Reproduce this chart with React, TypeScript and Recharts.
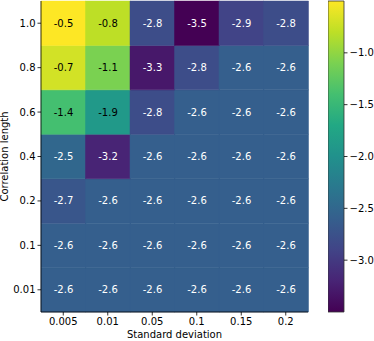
import React from "react";
import { Bar, BarChart, Cell, LabelList, XAxis, YAxis } from "recharts";

// columns (x) and rows (y, bottom to top)
const stdDevs = ["0.005", "0.01", "0.05", "0.1", "0.15", "0.2"];
const corrLengths = ["0.01", "0.1", "0.2", "0.4", "0.6", "0.8", "1.0"];

// one array per correlation length, values per standard deviation
const row001 = [-2.6, -2.6, -2.6, -2.6, -2.6, -2.6];
const row01 = [-2.6, -2.6, -2.6, -2.6, -2.6, -2.6];
const row02 = [-2.7, -2.6, -2.6, -2.6, -2.6, -2.6];
const row04 = [-2.5, -3.2, -2.6, -2.6, -2.6, -2.6];
const row06 = [-1.4, -1.9, -2.8, -2.6, -2.6, -2.6];
const row08 = [-0.7, -1.1, -3.3, -2.8, -2.6, -2.6];
const row10 = [-0.5, -0.8, -2.8, -3.5, -2.9, -2.8];
const rows = [row001, row01, row02, row04, row06, row08, row10];

const colorbarTicks = [-3.0, -2.5, -2.0, -1.5, -1.0];
const VMIN = -3.5;
const VMAX = -0.5;

const VIRIDIS = [
  "#440154", "#482475", "#414487", "#355f8d", "#2a788e", "#21918c",
  "#22a884", "#44bf70", "#7ad151", "#bddf26", "#fde725",
];

const hex = (h: string) => [1, 3, 5].map((i) => parseInt(h.slice(i, i + 2), 16));

function viridis(t: number) {
  const c = Math.max(0, Math.min(1, t)) * (VIRIDIS.length - 1);
  const i = Math.min(Math.floor(c), VIRIDIS.length - 2);
  const f = c - i;
  const a = hex(VIRIDIS[i]);
  const b = hex(VIRIDIS[i + 1]);
  const m = a.map((v, k) => Math.round(v + (b[k] - v) * f));
  return `rgb(${m[0]},${m[1]},${m[2]})`;
}

const norm = (v: number) => (v - VMIN) / (VMAX - VMIN);

const table = stdDevs.map((sd, c) => {
  const d: Record<string, any> = { sd };
  rows.forEach((r, i) => {
    d[`r${i}`] = 1;
    d[`v${i}`] = r[c];
  });
  return d;
});

const FONT = "DejaVu Sans, sans-serif";
const minus = (s: string) => s.replace("-", "\u2212");

const cellLabel = (props: any) => {
  const { x, y, width, height, value } = props;
  const dark = norm(value) > 0.5;
  return (
    <text
      x={x + width / 2}
      y={y + height / 2}
      textAnchor="middle"
      dominantBaseline="central"
      fontSize={10}
      fontFamily={FONT}
      fill={dark ? "#000" : "#fff"}
    >
      {value.toFixed(1)}
    </text>
  );
};

const tickStyle = { fill: "#000", fontSize: 10, fontFamily: FONT };

export default function App() {
  return (
    <div style={{ position: "fixed", left: 0, top: 0, width: 374, height: 341, background: "#fff" }}>
      <div style={{ position: "absolute", left: 0, top: 0 }}>
        <BarChart
          width={374}
          height={341}
          data={table}
          margin={{ top: 1, right: 66, bottom: 0, left: 0 }}
          barCategoryGap={0}
          barGap={0}
        >
          <XAxis
            dataKey="sd"
            type="category"
            height={29}
            tick={tickStyle}
            tickSize={3.5}
            tickLine={{ stroke: "#000", strokeWidth: 0.8 }}
            axisLine={{ stroke: "#000", strokeWidth: 0.8 }}
            label={{ value: "Standard deviation", position: "insideBottom", offset: 3, fill: "#000", fontSize: 10, fontFamily: FONT }}
          />
          <XAxis xAxisId="top" dataKey="sd" orientation="top" height={0} tick={false} tickLine={false} axisLine={{ stroke: "#000", strokeWidth: 0.8 }} />
          <YAxis
            type="number"
            domain={[0, 7]}
            ticks={corrLengths.map((_, i) => i + 0.5)}
            tickFormatter={(v: number) => corrLengths[Math.floor(v)]}
            width={41}
            tick={tickStyle}
            tickSize={3.5}
            tickLine={{ stroke: "#000", strokeWidth: 0.8 }}
            axisLine={{ stroke: "#000", strokeWidth: 0.8 }}
            label={{ value: "Correlation length", angle: -90, position: "insideLeft", offset: 0, dx: 4, fill: "#000", fontSize: 10, fontFamily: FONT, style: { textAnchor: "middle" } }}
          />
          <YAxis yAxisId="right" orientation="right" type="number" domain={[0, 7]} width={0} tick={false} tickLine={false} axisLine={{ stroke: "#000", strokeWidth: 0.8 }} />
          {rows.map((r, i) => (
            <Bar key={i} dataKey={`r${i}`} stackId="a" isAnimationActive={false}>
              {r.map((v, c) => (
                <Cell key={c} fill={viridis(norm(v))} stroke={viridis(norm(v))} strokeWidth={0.5} />
              ))}
              <LabelList dataKey={`v${i}`} content={cellLabel} />
            </Bar>
          ))}
        </BarChart>
      </div>
      <div style={{ position: "absolute", left: 328, top: 0 }}>
        <BarChart
          width={46}
          height={341}
          data={[{ name: "cb", range: [VMIN, VMAX] }]}
          margin={{ top: 1, right: 0, bottom: 29, left: 0 }}
          barCategoryGap={0}
        >
          <defs>
            <linearGradient id="viridisGrad" x1="0" y1="1" x2="0" y2="0">
              {VIRIDIS.map((c, i) => (
                <stop key={i} offset={i / (VIRIDIS.length - 1)} stopColor={c} />
              ))}
            </linearGradient>
          </defs>
          <XAxis dataKey="name" hide />
          <YAxis
            orientation="right"
            type="number"
            domain={[VMIN, VMAX]}
            ticks={colorbarTicks}
            tickFormatter={(v: number) => minus(v.toFixed(1))}
            width={30}
            tick={tickStyle}
            tickSize={3.5}
            tickLine={{ stroke: "#000", strokeWidth: 0.8 }}
            axisLine={false}
          />
          <Bar dataKey="range" fill="url(#viridisGrad)" stroke="#333" strokeWidth={0.8} isAnimationActive={false} />
        </BarChart>
      </div>
    </div>
  );
}
